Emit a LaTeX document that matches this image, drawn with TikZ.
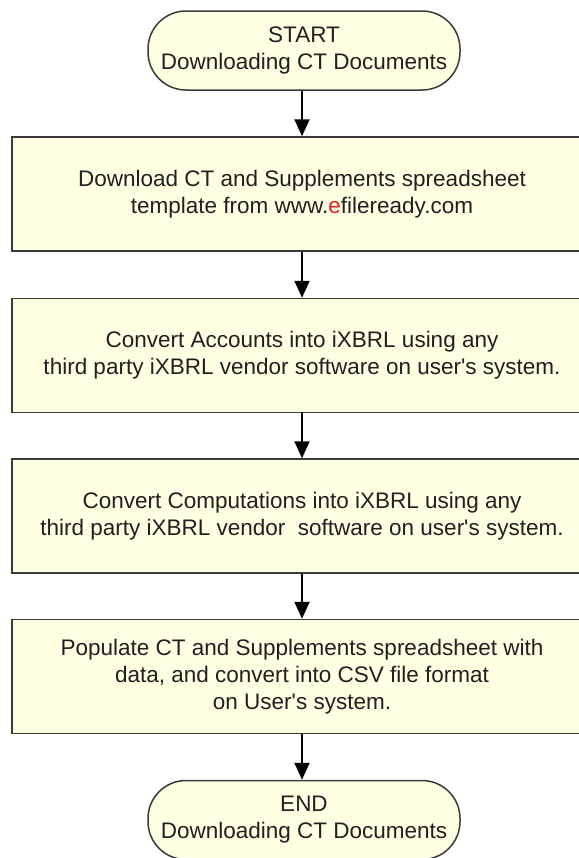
\documentclass[tikz,border=0pt]{standalone}
\usepackage{fontspec}
\setmainfont{Liberation Sans}
\usetikzlibrary{arrows.meta}

% Farben
\definecolor{boxfill}{RGB}{255,255,228}
\definecolor{boxline}{RGB}{58,58,58}
\definecolor{txt}{RGB}{35,31,32}
\definecolor{ered}{RGB}{226,30,36}

\tikzset{
    terminal/.style={draw=boxline, line width=0.75pt, fill=boxfill, rounded corners=19pt,
        minimum width=156pt, minimum height=39.5pt, inner sep=0pt, align=center,
        text=txt, font=\fontsize{11.25}{13.5}\selectfont},
    process/.style={draw=boxline, line width=0.75pt, fill=boxfill,
        minimum width=290pt, minimum height=57pt, inner sep=0pt, align=center,
        text=txt, font=\fontsize{11.25}{13.5}\selectfont},
    arr/.style={draw=black, line width=1pt, -{Triangle[length=8.5pt,width=7.5pt]}}
}

\begin{document}
\begin{tikzpicture}[x=0.5pt, y=-0.5pt]

    % Rahmen
    \useasboundingbox (0,0) rectangle (579,858);
    \clip (0,0) rectangle (579,858);

    % Start und Ende
    \node[terminal] (start) at (304,50.5) {START\\Downloading CT Documents};
    \node[terminal] (stop) at (304,820) {END\\Downloading CT Documents};

    % Schritte
    \node[process] (download) at (302,194) {Download CT and Supplements spreadsheet\\template from www.\textcolor{ered}{e}fileready.com};
    \node[process] (accounts) at (302,355.5) {Convert Accounts into iXBRL using any\\third party iXBRL vendor software on user\textquotesingle s system.};
    \node[process] (computations) at (302,516) {Convert Computations into iXBRL using any\\third party iXBRL vendor~ software on user\textquotesingle s system.};
    \node[process] (populate) at (302,676.5) {Populate CT and Supplements spreadsheet with\\data, and convert into CSV file format\\on User\textquotesingle s system.};

    % Pfeile
    \draw[arr] (start.south -| download) -- (download.north);
    \draw[arr] (download.south) -- (accounts.north);
    \draw[arr] (accounts.south) -- (computations.north);
    \draw[arr] (computations.south) -- (populate.north);
    \draw[arr] (populate.south) -- (populate.south |- stop.north);

\end{tikzpicture}
\end{document}
